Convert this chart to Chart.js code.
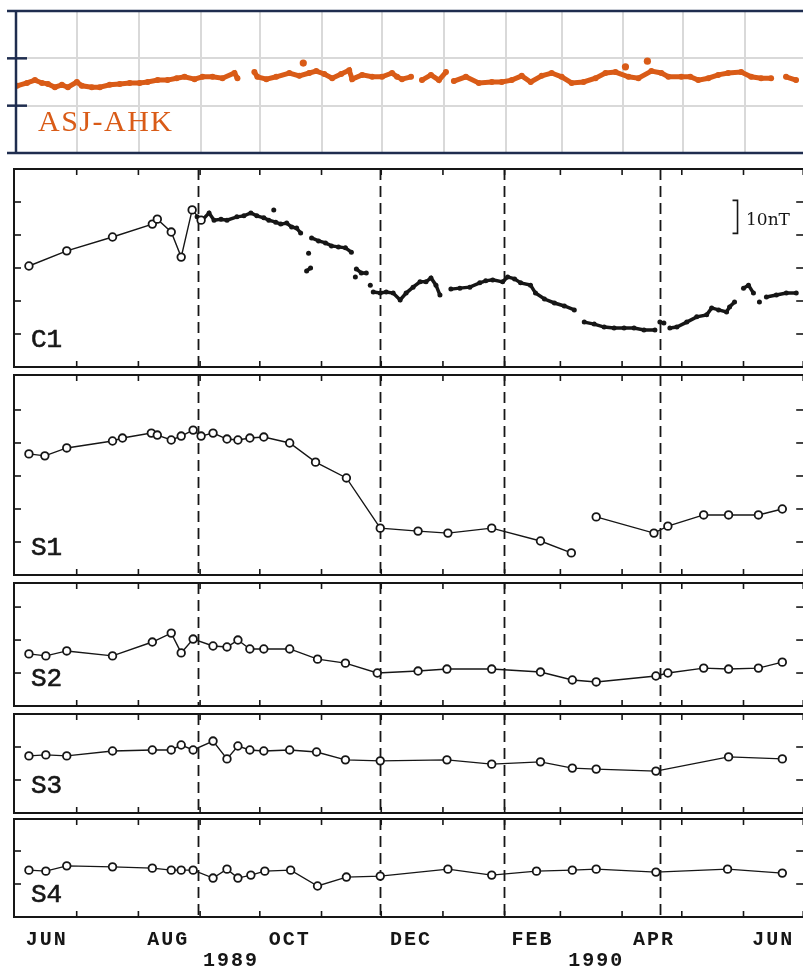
<!DOCTYPE html>
<html>
<head>
<meta charset="utf-8">
<script src="https://cdn.jsdelivr.net/npm/chart.js@4.4.0/dist/chart.umd.min.js"></script>
<style>
  html, body { margin: 0; padding: 0; background: #fff; width: 803px; height: 971px; overflow: hidden; }
  .wrap { position: relative; width: 803px; height: 971px; }
  canvas { position: absolute; left: 0; }
  .name { position: absolute; left: 31px; font-family: 'Liberation Mono', monospace; font-size: 26px; line-height: 26px; color: #161616; -webkit-text-stroke: 0.6px #161616; }
  .asj { position: absolute; left: 38px; top: 106px; font-family: 'Liberation Serif', serif; font-size: 30px; line-height: 30px; letter-spacing: 1.5px; color: #d95b17; }
  .unit { position: absolute; left: 746px; top: 211px; font-family: 'DejaVu Serif', serif; font-size: 17px; line-height: 17px; color: #161616; }
</style>
</head>
<body>
<div class="wrap">
  <canvas id="asj" width="812" height="166" style="top:0px"></canvas>
  <canvas id="c1" width="812" height="218" style="top:159px"></canvas>
  <canvas id="s1" width="812" height="220" style="top:365px"></canvas>
  <canvas id="s2" width="812" height="143" style="top:573px"></canvas>
  <canvas id="s3" width="812" height="119" style="top:704px"></canvas>
  <canvas id="s4" width="812" height="162" style="top:809px"></canvas>

  <div class="asj">ASJ-AHK</div>
  <div class="unit">10nT</div>
  <div class="name" style="top:327px">C1</div>
  <div class="name" style="top:535px">S1</div>
  <div class="name" style="top:666px">S2</div>
  <div class="name" style="top:773px">S3</div>
  <div class="name" style="top:882px">S4</div>
</div>

<script>
// Time axis: days counted from 1 June 1989
const monthStartDays = [30, 61, 92, 122, 153, 183, 214, 245, 273, 304, 334, 365, 395];
const monthTickDays = [15, 76, 137, 198, 259, 320, 380];
const monthLabels = ['JUN', 'AUG', 'OCT', 'DEC', 'FEB', 'APR', 'JUN'];
const yearTickDays = [107.5, 291];
const yearLabels = ['1989', '1990'];
// dashed event lines
const eventDays = [91, 182.5, 244.5, 323];

// ASJ-AHK difference (orange), null = gap in the record
const asjDays = [0, 5, 9, 12.5, 15.5, 19, 22.5, 25.5, 30, 32.5, 37.5, 41.5, 46.5, 51.5, 56.5, 61.5, 65.5, 70.5, 75.5, 80,
  84, 89, 93, 98, 103, 109, 110.5, 114, 119, 120.5, 125, 130, 136.5, 141.5, 146.5, 150, 154, 158, 162.5, 166.5,
  168, 173, 178, 183, 188, 190.5, 193, 197.5, 200, 203, 207.5, 211.5, 215, 217, 219, 225, 231.5, 238, 243, 248,
  253, 257.5, 263, 268, 273, 278, 284, 290, 295, 300, 306.5, 311.5, 318, 323, 326.5, 333, 337.5, 341.5, 346.5, 351.5,
  356.5, 363, 368, 373, 378, 382, 385.5, 390.5];
const asjVals = [14.2, 14.8, 15.4, 14.8, 14.6, 13.9, 14.4, 13.9, 15.0, 14.2, 13.9, 13.9, 14.4, 14.6, 14.8, 14.8, 15.0, 15.4, 15.4, 15.8,
  16.1, 15.6, 16.1, 16.1, 15.8, 16.9, 15.8, null, 17.1, 16.1, 15.6, 16.1, 16.9, 16.3, 16.9, 17.3, 16.7, 15.8, 16.7, 17.5,
  15.6, 16.5, 16.1, 16.1, 16.9, 16.1, 15.6, 16.1, null, 15.4, 16.5, 15.4, 17.1, null, 15.2, 16.1, 14.8, 15.0, 15.0, 15.4,
  16.3, 15.0, 16.3, 16.9, 16.1, 14.8, 15.0, 15.8, 16.9, 17.1, 16.1, 15.8, 17.3, 16.9, 16.1, 16.1, 16.1, 15.4, 15.8, 16.5,
  16.9, 17.1, 16.1, 15.8, 15.8, null, 16.1, 15.4];
const asjSpikeDays = [143.5, 305, 316];
const asjSpikeVals = [19.0, 18.2, 19.4];

// C1 (nT, arbitrary baseline): station points, then the continuous record
const c1Days = [6, 25, 48, 68, 70.5, 77.5, 82.5, 88, 92.5];
const c1Vals = [30.6, 35.2, 39.4, 43.3, 44.8, 40.9, 33.3, 47.6, 44.5];
const c1DotDays = [90.5, 93, 96.5, 99, 102.5, 105.5, 110.5, 114, 117.5, 120.5, 124, 126.5, 130, 132.5, 135.5, 138, 140.5, 142.5,
  143, 129, 129, 146.5, 146.5, 145.5, 147.5, 147.5, 148, 151.5, 155, 158, 161.5, 165, 168,
  169, 170.5, 173, 175.5, 176, 170, 170, 177.5, 178,
  179, 182.5, 185.5, 189, 192.5, 195.5, 199, 202.5, 205.5, 208, 210.5, 212.5, 215,
  218, 222.5, 227.5, 232.5, 235.5, 239, 244, 246.5, 250, 253, 258, 260.5, 265, 270, 275, 280, 282,
  285, 290, 295, 300, 305, 310, 315, 320.5, 322, 323, 325, 326,
  328, 331.5, 336.5, 341.5, 346.5, 349, 352.5, 356.5, 358, 360.5, 363,
  365, 367.5, 370, 371, 373, 375, 376.5, 381.5, 386.5, 391.5];
const c1DotVals = [45.5, 44.5, 46.7, 44.5, 44.8, 44.5, 45.5, 45.8, 46.7, 45.8, 45.2, 44.5, 43.9, 43.3, 43.6, 42.4, 42.1, 40.6,
  null, 47.6, null, 34.5, null, 29.1, 30.0, null, 39.1, 38.2, 37.6, 36.7, 36.4, 36.1, 34.8,
  null, 29.7, 28.5, 28.5, null, 27.3, null, 24.8, null,
  22.7, 22.4, 22.7, 22.4, 20.3, 22.4, 24.2, 25.8, 25.8, 27.0, 24.8, 21.8, null,
  23.6, 23.9, 24.2, 25.5, 26.1, 26.4, 25.8, 27.3, 26.7, 25.5, 24.8, 22.4, 20.6, 19.4, 18.5, 17.3, null,
  13.6, 13.0, 12.1, 11.8, 11.8, 11.8, 11.2, 11.2, null, 13.6, 13.3, null,
  11.8, 12.1, 13.6, 15.2, 15.8, 17.9, 17.3, 16.7, 18.2, 19.7, null,
  23.9, 24.8, 22.4, null, 19.7, null, 21.2, 21.8, 22.4, 22.4];

// S1..S4 repeat stations
const s1Days = [6, 14, 25, 48, 53, 67.5, 70.5, 77.5, 82.5, 88.5, 92.5, 98.5, 105.5, 111, 117, 124, 137, 150, 165.5, 182.5,
  201.5, 216.5, 238.5, 263, 278.5, 285, 291, 320, 327, 345, 357.5, 372.5, 384.5];
const s1Vals = [36.7, 36.1, 38.5, 40.6, 41.5, 43.0, 42.4, 40.9, 42.1, 43.9, 42.1, 43.0, 41.2, 40.9, 41.5, 41.8, 40.0, 34.2, 29.4, 14.2,
  13.3, 12.7, 14.2, 10.3, 6.7, null, 17.6, 12.7, 14.8, 18.2, 18.2, 18.2, 20.0];

const s2Days = [6, 14.5, 25, 48, 68, 77.5, 82.5, 88.5, 98.5, 105.5, 111, 117, 124, 137, 151, 165, 181, 201.5, 216, 238.5,
  263, 279, 291, 321, 327, 345, 357.5, 372.5, 384.5];
const s2Vals = [15.8, 15.2, 16.7, 15.2, 19.4, 22.1, 16.1, 20.3, 18.2, 17.9, 20.0, 17.3, 17.3, 17.3, 14.2, 13.0, 10.0, 10.6, 11.2, 11.2,
  10.3, 7.9, 7.3, 9.1, 10.0, 11.5, 11.2, 11.5, 13.3];

const s3Days = [6, 14.5, 25, 48, 68, 77.5, 82.5, 88.5, 98.5, 105.5, 111, 117, 124, 137, 150.5, 165, 182.5, 216, 238.5, 263,
  279, 291, 321, 357.5, 384.5];
const s3Vals = [17.3, 17.6, 17.3, 18.8, 19.1, 19.1, 20.6, 19.1, 21.8, 16.4, 20.3, 19.1, 18.8, 19.1, 18.5, 16.1, 15.8, 16.1, 14.8, 15.5,
  13.6, 13.3, 12.7, 17.0, 16.4];

const s4Days = [6, 14.5, 25, 48, 68, 77.5, 82.5, 88.5, 98.5, 105.5, 111, 117.5, 124.5, 137.5, 151, 165.5, 182.5, 216.5, 238.5, 261,
  279, 291, 321, 357, 384.5];
const s4Vals = [14.2, 13.9, 15.5, 15.2, 14.8, 14.2, 14.2, 14.2, 11.8, 14.5, 11.8, 12.7, 13.9, 14.2, 9.4, 12.1, 12.4, 14.5, 12.7, 13.9,
  14.2, 14.5, 13.6, 14.5, 13.3];

const INK = '#161616';
const ORANGE = '#d95b17';
const NAVY = '#1f2d4f';
const X_MIN = -1.5;
const X_MAX = 396.5;

const pts = (days, vals) => days.map((d, i) => ({ x: d, y: vals[i] }));

function line(ctx, x1, y1, x2, y2) {
    ctx.beginPath();
    ctx.moveTo(x1, y1);
    ctx.lineTo(x2, y2);
    ctx.stroke();
}

// Frame, inward ticks, dashed event lines and the scale bar
const panelFrame = {
    id: 'panelFrame',
    beforeDatasetsDraw(chart, args, opts) {
        if (!opts.dashed) return;
        const { ctx, chartArea: { top, bottom } } = chart;
        const x = chart.scales.x;
        ctx.save();
        ctx.strokeStyle = INK;
        ctx.lineWidth = 1.8;
        ctx.setLineDash([11, 6]);
        eventDays.forEach(d => {
            const px = Math.round(x.getPixelForValue(d)) + 0.5;
            line(ctx, px, top, px, bottom);
        });
        ctx.restore();
    },
    afterDatasetsDraw(chart, args, opts) {
        const { ctx, chartArea: { left, right, top, bottom } } = chart;
        const x = chart.scales.x;
        const y = chart.scales.y;
        ctx.save();
        if (opts.style === 'navy') {
            ctx.strokeStyle = NAVY;
            ctx.lineWidth = 2.5;
            line(ctx, 7, top, right, top);
            line(ctx, 7, bottom, right, bottom);
            line(ctx, left, top, left, bottom);
            for (let v = 10; v < y.max; v += 10) {
                const py = y.getPixelForValue(v);
                line(ctx, 7, py, left + 11, py);
            }
        } else {
            ctx.strokeStyle = INK;
            ctx.lineWidth = 2;
            ctx.strokeRect(left, top, right - left, bottom - top);
            ctx.lineWidth = 1.6;
            monthStartDays.forEach(d => {
                const px = x.getPixelForValue(d);
                line(ctx, px, top, px, top + 6);
                line(ctx, px, bottom, px, bottom - 6);
            });
            for (let v = 10; v < y.max - 1; v += 10) {
                const py = y.getPixelForValue(v);
                line(ctx, left, py, left + 7, py);
                line(ctx, right, py, right - 10, py);
            }
        }
        if (opts.scaleBar) {
            const b = opts.scaleBar;
            const px = x.getPixelForValue(b.day);
            const y1 = y.getPixelForValue(b.to);
            const y2 = y.getPixelForValue(b.from);
            ctx.strokeStyle = INK;
            ctx.lineWidth = 1.6;
            ctx.beginPath();
            ctx.moveTo(px - 5, y1);
            ctx.lineTo(px, y1);
            ctx.lineTo(px, y2);
            ctx.lineTo(px - 5, y2);
            ctx.stroke();
        }
        ctx.restore();
    }
};

// spread the typewriter-like axis lettering
const spacedLabels = {
    id: 'spacedLabels',
    beforeDraw(chart, args, opts) {
        if (opts.spacing) chart.ctx.letterSpacing = opts.spacing;
    }
};

const stationStyle = {
    borderColor: INK,
    borderWidth: 1.4,
    pointRadius: 3.8,
    pointBorderWidth: 1.8,
    pointBorderColor: INK,
    pointBackgroundColor: '#fff',
    showLine: true,
    spanGaps: false
};

function baseScales(yMax) {
    return {
        x: { type: 'linear', min: X_MIN, max: X_MAX, display: false },
        y: { type: 'linear', min: 0, max: yMax, display: false }
    };
}

function stationPanel(id, datasets, yMax, frameOpts, scales) {
    return new Chart(document.getElementById(id), {
        type: 'scatter',
        data: { datasets },
        options: {
            responsive: false,
            animation: false,
            layout: { padding: { left: 14, right: 2, top: 10, bottom: frameOpts.padBottom ?? 10 } },
            plugins: {
                legend: { display: false },
                tooltip: { enabled: false },
                panelFrame: frameOpts,
                spacedLabels: { spacing: frameOpts.spacing }
            },
            scales: scales || baseScales(yMax)
        },
        plugins: [panelFrame, spacedLabels]
    });
}

// ASJ-AHK panel
new Chart(document.getElementById('asj'), {
    type: 'scatter',
    data: {
        datasets: [
            {
                data: pts(asjDays, asjVals),
                showLine: true,
                spanGaps: false,
                borderColor: ORANGE,
                borderWidth: 5,
                borderCapStyle: 'round',
                pointRadius: 3,
                pointBorderWidth: 0,
                pointBackgroundColor: ORANGE
            },
            {
                data: pts(asjSpikeDays, asjSpikeVals),
                pointRadius: 3.6,
                pointBorderWidth: 0,
                pointBackgroundColor: ORANGE
            }
        ]
    },
    options: {
        responsive: false,
        animation: false,
        layout: { padding: { left: 16, right: 2, top: 11, bottom: 13 } },
        plugins: {
            legend: { display: false },
            tooltip: { enabled: false },
            panelFrame: { style: 'navy' }
        },
        scales: {
            x: {
                type: 'linear', min: -0.5, max: X_MAX,
                afterBuildTicks: s => { s.ticks = monthStartDays.map(v => ({ value: v })); },
                afterFit: s => { s.height = 0; },
                ticks: { display: false },
                grid: { color: '#d9d9d9', lineWidth: 2, drawTicks: false },
                border: { display: false }
            },
            y: {
                type: 'linear', min: 0, max: 30,
                afterBuildTicks: s => { s.ticks = [10, 20].map(v => ({ value: v })); },
                afterFit: s => { s.width = 0; },
                ticks: { display: false },
                grid: { color: '#d9d9d9', lineWidth: 2, drawTicks: false },
                border: { display: false }
            }
        }
    },
    plugins: [panelFrame]
});

// C1
stationPanel('c1', [
    { ...stationStyle, data: pts(c1Days, c1Vals) },
    {
        data: pts(c1DotDays, c1DotVals),
        showLine: true,
        spanGaps: false,
        borderColor: INK,
        borderWidth: 3.5,
        pointRadius: 2.5,
        pointBorderWidth: 0,
        pointBackgroundColor: INK
    }
], 60, { dashed: true, scaleBar: { day: 362, from: 40.5, to: 50.5 } });

stationPanel('s1', [{ ...stationStyle, data: pts(s1Days, s1Vals) }], 60.6, { dashed: true });
stationPanel('s2', [{ ...stationStyle, data: pts(s2Days, s2Vals) }], 37.3, { dashed: true });
stationPanel('s3', [{ ...stationStyle, data: pts(s3Days, s3Vals) }], 30, { dashed: true });

// S4 carries the month / year axis
const tickFont = { family: 'Liberation Mono', weight: 'bold', size: 20 };
stationPanel('s4', [{ ...stationStyle, data: pts(s4Days, s4Vals) }], 29.7,
    { dashed: true, padBottom: 0, spacing: '2px' },
    {
        x: {
            type: 'linear', min: X_MIN, max: X_MAX, position: 'bottom', weight: 0,
            afterBuildTicks: s => { s.ticks = monthTickDays.map(v => ({ value: v })); },
            afterFit: s => { s.height = 36; },
            grid: { display: false, drawTicks: false },
            border: { display: false },
            ticks: {
                autoSkip: false, maxRotation: 0, padding: 11, color: INK, font: tickFont,
                callback: (v, i) => monthLabels[i]
            }
        },
        xYear: {
            type: 'linear', min: X_MIN, max: X_MAX, position: 'bottom', weight: 1,
            afterBuildTicks: s => { s.ticks = yearTickDays.map(v => ({ value: v })); },
            afterFit: s => { s.height = 18; },
            grid: { display: false, drawTicks: false },
            border: { display: false },
            ticks: {
                autoSkip: false, maxRotation: 0, padding: -4, color: INK, font: tickFont,
                callback: (v, i) => yearLabels[i]
            }
        },
        y: { type: 'linear', min: 0, max: 29.7, display: false }
    });
</script>
</body>
</html>
